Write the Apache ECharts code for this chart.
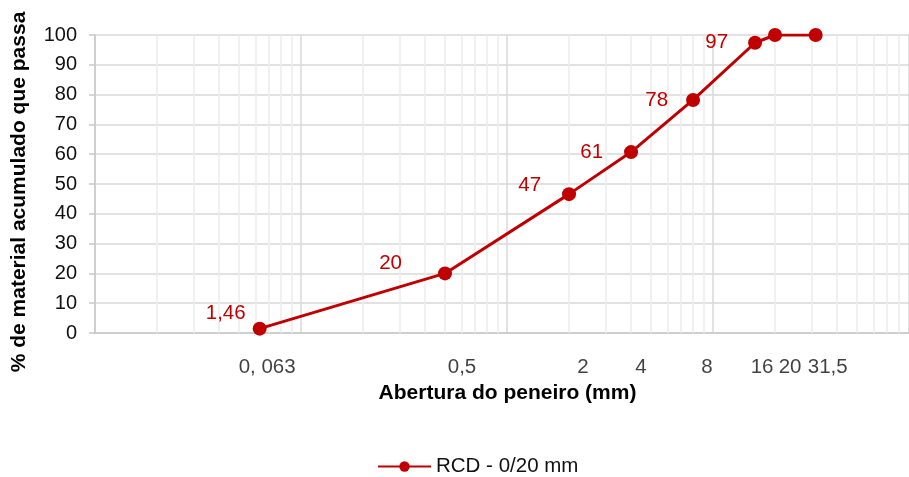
<!DOCTYPE html>
<html>
<head>
<meta charset="utf-8">
<script src="https://cdn.jsdelivr.net/npm/echarts@6/dist/echarts.min.js"></script>
<style>
html,body{margin:0;padding:0;background:#fff;}
#chart{width:909px;height:477px;}
</style>
</head>
<body>
<div id="chart"></div>
<script>
// ---- data ----
const seriesName = 'RCD - 0/20 mm';
const sieveSizes = [0.063, 0.5, 2, 4, 8, 16, 20, 31.5];
const percentPassing = [1.46, 20, 46.6, 60.7, 78.2, 97.4, 100, 100];
const pointLabels = ['1,46', '20', '47', '61', '78', '97', '', ''];
const xTickLabels = ['0, 063', '0,5', '2', '4', '8', '16', '20', '31,5'];
const yTicks = [0, 10, 20, 30, 40, 50, 60, 70, 80, 90, 100];
const xRange = [0.01, 89.4];
const minorGridValues = [0.02,0.03,0.04,0.05,0.06,0.07,0.08,0.09,
  0.2,0.3,0.4,0.5,0.6,0.7,0.8,0.9,
  2,3,4,5,6,7,8,9,
  20,30,40,50,60,70,80];
const xTitle = 'Abertura do peneiro (mm)';
const yTitle = '% de material acumulado que passa';

// ---- styles (not data) ----
const RED = '#c00000';
const FONT = 'Liberation Sans, Arial, sans-serif';
const pointLabelOffsets = [[13,-15],[-16,-10],[-1,-9],[-1,0],[2,0],[0,0],[0,0],[0,0]];
const tickLabelOffsets = [7.5,17,14,10,14,7,15,12];

const chart = echarts.init(document.getElementById('chart'), null, {renderer: 'canvas'});

const lineData = sieveSizes.map((x, i) => ({
  value: [x, percentPassing[i]],
  label: {
    show: pointLabels[i] !== '',
    formatter: pointLabels[i],
    offset: pointLabelOffsets[i]
  }
}));

const tickData = sieveSizes.map((x, i) => ({
  value: [x, 0],
  label: { formatter: xTickLabels[i], offset: [tickLabelOffsets[i], 0] }
}));

chart.setOption({
  animation: false,
  backgroundColor: '#fff',
  textStyle: { fontFamily: FONT },
  grid: { left: 95, right: 0, top: 35, bottom: 144, containLabel: false },
  xAxis: {
    type: 'log', logBase: 10, min: xRange[0], max: xRange[1],
    name: xTitle, nameLocation: 'middle', nameGap: 50,
    nameTextStyle: { fontFamily: FONT, fontWeight: 'bold', fontSize: 21, color: '#000', padding: [0,0,0,11] },
    axisLine: { show: true, lineStyle: { color: '#c8c8c8', width: 1.5 } },
    axisTick: { show: false },
    axisLabel: { show: false },
    splitLine: { show: true, lineStyle: { color: '#d9d9d9', width: 1.5 } },
    minorTick: { show: false }
  },
  yAxis: {
    type: 'value', min: yTicks[0], max: yTicks[yTicks.length - 1], interval: 10,
    name: yTitle, nameLocation: 'middle', nameGap: 65,
    nameTextStyle: { fontFamily: FONT, fontWeight: 'bold', fontSize: 21, color: '#000', padding: [0,16,0,0] },
    axisLine: { show: true, lineStyle: { color: '#c8c8c8', width: 1.5 } },
    axisTick: { show: true, inside: false, length: 6, lineStyle: { color: '#c8c8c8', width: 1.5 } },
    axisLabel: { fontFamily: FONT, fontSize: 20, color: '#111', margin: 18 },
    splitLine: { show: true, lineStyle: { color: '#d9d9d9', width: 1.5 } }
  },
  legend: {
    left: 377, top: 456, padding: 0,
    itemWidth: 53, itemHeight: 13, itemGap: 10,
    textStyle: { fontFamily: FONT, fontSize: 20.5, color: '#111' },
    data: [seriesName]
  },
  series: [
    {
      type: 'scatter', name: '_grid', z: 1, silent: true,
      data: [],
      markLine: {
        silent: true, symbol: ['none', 'none'], label: { show: false },
        lineStyle: { color: '#ececec', width: 1.5, type: 'solid' },
        animation: false,
        data: minorGridValues.map(v => ({ xAxis: v }))
      }
    },
    {
      type: 'scatter', name: '_ticks', z: 3, silent: true, clip: false,
      symbolSize: 0,
      label: { show: true, position: 'bottom', distance: 24, fontFamily: FONT, fontSize: 20.5, color: '#111' },
      data: tickData
    },
    {
      type: 'line', name: seriesName, z: 5,
      symbol: 'circle', symbolSize: 14,
      lineStyle: { color: RED, width: 3 },
      itemStyle: { color: RED },
      label: { position: 'left', distance: 20, fontFamily: FONT, fontSize: 20.5, color: RED },
      data: lineData
    }
  ]
});
</script>
</body>
</html>
